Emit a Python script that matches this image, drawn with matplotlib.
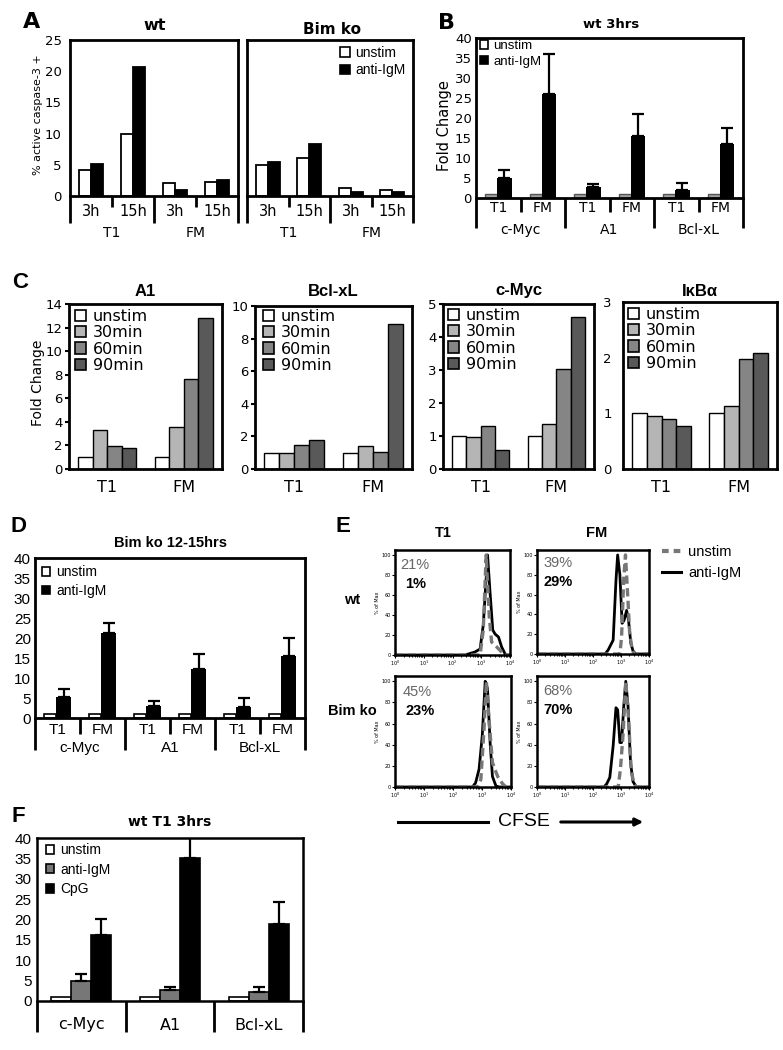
import numpy as np
import matplotlib
matplotlib.use('Agg')
import matplotlib.pyplot as plt
import matplotlib.transforms as mtransforms
from matplotlib.patches import Patch, FancyArrowPatch
from matplotlib.lines import Line2D

# ---------------- data ----------------
# Panel A: % active caspase-3+
a_times = ['3h', '15h', '3h', '15h']
a_cells = ['T1', 'FM']
a_wt_unstim = [4.1, 10.0, 2.1, 2.3]
a_wt_anti = [5.2, 20.6, 0.9, 2.5]
a_ko_unstim = [5.0, 6.1, 1.3, 0.9]
a_ko_anti = [5.5, 8.4, 0.7, 0.7]

# Panel B: wt 3hrs fold change
b_cells = ['T1', 'FM', 'T1', 'FM', 'T1', 'FM']
b_genes = ['c-Myc', 'A1', 'Bcl-xL']
b_unstim = [1.0, 1.0, 1.0, 1.0, 1.0, 1.0]
b_anti = [5.0, 25.9, 2.7, 15.4, 2.1, 13.4]
b_anti_err = [2.0, 10.2, 0.9, 5.7, 1.7, 4.0]

# Panel C: time course fold change
c_series = ['unstim', '30min', '60min', '90min']
c_cells = ['T1', 'FM']
c_a1_t1 = [1.0, 3.3, 1.95, 1.75]
c_a1_fm = [1.0, 3.6, 7.6, 12.8]
c_bcl_t1 = [1.0, 1.0, 1.45, 1.75]
c_bcl_fm = [1.0, 1.4, 1.05, 8.9]
c_myc_t1 = [1.0, 0.97, 1.3, 0.59]
c_myc_fm = [1.0, 1.35, 3.04, 4.6]
c_ikb_t1 = [1.0, 0.95, 0.9, 0.78]
c_ikb_fm = [1.0, 1.13, 1.98, 2.08]

# Panel D: Bim ko 12-15hrs
d_cells = ['T1', 'FM', 'T1', 'FM', 'T1', 'FM']
d_genes = ['c-Myc', 'A1', 'Bcl-xL']
d_unstim = [1.0, 1.0, 1.0, 1.0, 1.0, 1.0]
d_anti = [5.2, 21.3, 2.9, 12.2, 2.7, 15.6]
d_anti_err = [2.0, 2.5, 1.3, 3.8, 2.2, 4.4]

# Panel E: CFSE histograms (log10 CFSE, % of max)
e_wt_t1_anti_x = [0, 2.43, 2.78, 2.96, 3.07, 3.22, 3.3, 3.4, 3.48, 3.6, 3.71, 3.83, 3.9, 4.0]
e_wt_t1_anti_y = [0, 0, 3, 6, 30, 100, 65, 25, 21, 18, 8, 1, 0, 0]
e_wt_t1_un_x = [0, 2.96, 3.07, 3.17, 3.28, 3.36, 3.54, 3.71, 3.83, 4.0]
e_wt_t1_un_y = [0, 0, 25, 100, 38, 13, 8, 3, 0, 0]
e_wt_fm_anti_x = [0, 2.43, 2.54, 2.63, 2.72, 2.82, 2.88, 2.96, 3.04, 3.11, 3.2, 3.27, 3.35, 3.43, 3.53, 4.0]
e_wt_fm_anti_y = [0, 0, 4, 9, 14, 74, 100, 80, 31, 34, 44, 34, 11, 3, 0, 0]
e_wt_fm_un_x = [0, 2.96, 3.02, 3.1, 3.16, 3.23, 3.31, 3.4, 3.47, 4.0]
e_wt_fm_un_y = [0, 0, 17, 77, 100, 64, 21, 4, 0, 0]
e_ko_t1_anti_x = [0, 2.67, 2.78, 2.9, 3.01, 3.11, 3.19, 3.28, 3.36, 3.48, 3.6, 4.0]
e_ko_t1_anti_y = [0, 0, 4, 17, 49, 100, 93, 42, 10, 1, 0, 0]
e_ko_t1_un_x = [0, 2.84, 2.96, 3.07, 3.15, 3.25, 3.36, 3.54, 3.71, 3.83, 4.0]
e_ko_t1_un_y = [0, 0, 7, 55, 100, 61, 23, 10, 3, 0, 0]
e_ko_fm_anti_x = [0, 2.39, 2.49, 2.6, 2.72, 2.82, 2.88, 2.96, 3.02, 3.1, 3.17, 3.25, 3.34, 3.43, 3.55, 4.0]
e_ko_fm_anti_y = [0, 0, 3, 9, 39, 75, 73, 42, 42, 77, 100, 77, 23, 5, 0, 0]
e_ko_fm_un_x = [0, 2.9, 2.98, 3.08, 3.17, 3.27, 3.37, 3.47, 3.55, 4.0]
e_ko_fm_un_y = [0, 0, 17, 52, 100, 64, 14, 3, 0, 0]
e_pct_unstim = ['21%', '39%', '45%', '68%']
e_pct_anti = ['1%', '29%', '23%', '70%']

# Panel F: wt T1 3hrs
f_genes = ['c-Myc', 'A1', 'Bcl-xL']
f_unstim = [1.0, 1.0, 1.0]
f_anti = [4.8, 2.6, 2.1]
f_anti_err = [1.9, 0.8, 1.4]
f_cpg = [16.1, 35.1, 19.0]
f_cpg_err = [4.1, 5.2, 5.4]

# ---------------- layout helpers ----------------
W, H = 783, 1050
plt.rcParams['font.family'] = ['DejaVu Sans']
fig = plt.figure(figsize=(W / 100, H / 100), dpi=100)
ref = mtransforms.Affine2D().scale(1.0 / W, -1.0 / H).translate(0, 1) + fig.transFigure
DV = 'DejaVu Sans'
LS = 'Liberation Sans'


def box(l, t, r, b):
    return fig.add_axes([l / W, 1 - b / H, (r - l) / W, (b - t) / H])


def ftext(x, y, s, **kw):
    kw.setdefault('ha', 'center')
    kw.setdefault('va', 'center')
    return fig.text(x, y, s, transform=ref, **kw)


def spines(ax, lw):
    for s in ax.spines.values():
        s.set_linewidth(lw)


def sep(ax, xs, y0, y1, lw=2.0):
    tr = mtransforms.blended_transform_factory(ax.transData, ref)
    for x in xs:
        ax.plot([x, x], [y0, y1], color='k', lw=lw, transform=tr,
                clip_on=False, solid_capstyle='butt')


def xlab(ax, xs, labels, y, **kw):
    tr = mtransforms.blended_transform_factory(ax.transData, ref)
    for x, s in zip(xs, labels):
        ax.text(x, y, s, transform=tr, ha='center', va='center', **kw)


def sq_legend(ax, labels, colors, anchor, fs, family, spacing, hl=0.7):
    handles = [Patch(facecolor=c, edgecolor='k', linewidth=1.2) for c in colors]
    ax.legend(handles, labels, loc='upper left', bbox_to_anchor=anchor,
              bbox_transform=ref, frameon=False, borderpad=0, borderaxespad=0,
              handlelength=hl, handleheight=hl, handletextpad=0.4,
              labelspacing=spacing, prop={'family': family, 'size': fs})


# ---------------- Panel A ----------------
axA1 = box(70, 40, 238, 196)
axA2 = box(247, 40, 413, 196)
xa = np.arange(len(a_times))
for ax, un, an in [(axA1, a_wt_unstim, a_wt_anti), (axA2, a_ko_unstim, a_ko_anti)]:
    ax.bar(xa - 0.15, un, 0.29, color='white', edgecolor='k', lw=1.3)
    ax.bar(xa + 0.15, an, 0.29, color='k', edgecolor='k', lw=1.3)
    ax.set_xlim(-0.5, len(a_times) - 0.5)
    ax.set_ylim(0, 25)
    ax.set_xticks([])
    ax.set_yticks(np.arange(0, 26, 5))
    ax.tick_params(axis='y', length=0, pad=6, labelsize=9.5)
    spines(ax, 2.0)
    sep(ax, [-0.5, 1.5, 3.5], 196, 223)
    sep(ax, [0.5, 2.5], 196, 207)
    xlab(ax, xa, a_times, 212, fontsize=10.5)
    xlab(ax, [0.5, 2.5], a_cells, 233, fontsize=10)
axA2.set_yticklabels([])
ftext(32, 22, 'A', fontsize=16, fontweight='bold')
ftext(155, 26, 'wt', fontsize=11.5, fontweight='bold')
ftext(332, 29, 'Bim ko', fontsize=11, fontweight='bold')
ftext(38, 115, '% active caspase-3 +', rotation=90, fontsize=8)
sq_legend(axA2, ['unstim', 'anti-IgM'], ['white', 'black'], (340, 46), 10, LS, 0.25)

# ---------------- Panel B ----------------
axB = box(476, 38, 743, 198)
xb = np.arange(len(b_anti))
axB.bar(xb - 0.16, b_unstim, 0.27, color='#a0a0a0', edgecolor='#555555', lw=1)
axB.bar(xb + 0.14, b_anti, 0.33, color='k')
axB.errorbar(xb + 0.14, b_anti, yerr=[np.zeros(len(b_anti)), b_anti_err], fmt='none',
             ecolor='k', elinewidth=1.6, capsize=4, capthick=1.6)
axB.set_xlim(-0.5, len(b_anti) - 0.5)
axB.set_ylim(0, 40)
axB.set_xticks([])
axB.set_yticks(np.arange(0, 41, 5))
axB.tick_params(axis='y', length=0, pad=3, labelsize=9.5)
spines(axB, 2.0)
sep(axB, [-0.5, 1.5, 3.5, 5.5], 198, 228)
sep(axB, [0.5, 2.5, 4.5], 198, 212)
xlab(axB, xb, b_cells, 208, fontsize=10)
xlab(axB, [0.5, 2.5, 4.5], b_genes, 230, fontsize=10)
ftext(446, 23, 'B', fontsize=16, fontweight='bold')
ftext(611, 25, 'wt 3hrs', fontsize=9.5, fontweight='bold')
ftext(444, 126, 'Fold Change', rotation=90, fontsize=10.5)
sq_legend(axB, ['unstim', 'anti-IgM'], ['white', 'black'], (480, 40), 9.5, LS, 0.3, hl=0.6)

# ---------------- Panel C ----------------
c_colors = ['white', '#b5b5b5', '#858585', '#595959']
c_width = 0.19
c_off = (np.arange(len(c_series)) - 1.5) * c_width
c_specs = [
    ((69, 304, 222, 469), 'A1', 14, 2, c_a1_t1, c_a1_fm, (75, 309)),
    ((255, 306, 412, 469), 'Bcl-xL', 10, 2, c_bcl_t1, c_bcl_fm, (263, 309)),
    ((443, 304, 594, 469), 'c-Myc', 5, 1, c_myc_t1, c_myc_fm, (448, 308)),
    ((623, 302, 777, 469), 'IκBα', 3, 1, c_ikb_t1, c_ikb_fm, (628, 307)),
]
xc = np.arange(len(c_cells))
for (bx, title, ymax, step, t1, fm, anc) in c_specs:
    ax = box(*bx)
    for i in range(len(c_series)):
        ax.bar(xc + c_off[i], [t1[i], fm[i]], c_width, color=c_colors[i],
               edgecolor='k', lw=1)
    ax.set_xlim(-0.5, 1.5)
    ax.set_ylim(0, ymax)
    ax.set_xticks([])
    ax.set_yticks(np.arange(0, ymax + 0.01, step))
    if title == 'IκBα':
        ax.tick_params(axis='y', length=0, pad=8, labelsize=9.5)
    else:
        ax.tick_params(axis='y', direction='out', length=3, width=1.5, pad=1.5, labelsize=9.5)
    spines(ax, 2.0)
    xlab(ax, xc, c_cells, 488, fontsize=11.5)
    ftext((bx[0] + bx[2]) / 2, 291, title, fontsize=12, fontweight='bold', family=LS)
    sq_legend(ax, c_series, c_colors, anc, 11.5, DV, 0.08)
ftext(20, 282, 'C', fontsize=16, fontweight='bold', family=LS)
ftext(38, 383, 'Fold Change', rotation=90, fontsize=10)

# ---------------- Panel D ----------------
axD = box(35, 558, 305, 718)
xd = np.arange(len(d_anti))
axD.bar(xd - 0.16, d_unstim, 0.27, color='white', edgecolor='k', lw=1.2)
axD.bar(xd + 0.14, d_anti, 0.33, color='k')
axD.errorbar(xd + 0.14, d_anti, yerr=[np.zeros(len(d_anti)), d_anti_err], fmt='none',
             ecolor='k', elinewidth=1.6, capsize=4, capthick=1.6)
axD.set_xlim(-0.5, len(d_anti) - 0.5)
axD.set_ylim(0, 40)
axD.set_xticks([])
axD.set_yticks(np.arange(0, 41, 5))
axD.tick_params(axis='y', length=0, pad=3, labelsize=11, labelfontfamily=LS)
spines(axD, 2.0)
sep(axD, [-0.5, 1.5, 3.5, 5.5], 718, 750)
sep(axD, [0.5, 2.5, 4.5], 718, 734)
xlab(axD, xd, d_cells, 730, fontsize=11, family=LS)
xlab(axD, [0.5, 2.5, 4.5], d_genes, 748, fontsize=11, family=LS)
ftext(19, 526, 'D', fontsize=16, fontweight='bold', family=LS)
ftext(170, 543, 'Bim ko 12-15hrs', fontsize=10.5, fontweight='bold', family=LS)
sq_legend(axD, ['unstim', 'anti-IgM'], ['white', 'black'], (42, 565), 10, LS, 0.35, hl=0.6)

# ---------------- Panel E ----------------
e_boxes = [(395, 550, 510, 655), (537, 550, 649, 654), (395, 676, 511, 787), (537, 676, 649, 787)]
e_anti = [(e_wt_t1_anti_x, e_wt_t1_anti_y), (e_wt_fm_anti_x, e_wt_fm_anti_y),
          (e_ko_t1_anti_x, e_ko_t1_anti_y), (e_ko_fm_anti_x, e_ko_fm_anti_y)]
e_un = [(e_wt_t1_un_x, e_wt_t1_un_y), (e_wt_fm_un_x, e_wt_fm_un_y),
        (e_ko_t1_un_x, e_ko_t1_un_y), (e_ko_fm_un_x, e_ko_fm_un_y)]
e_txt_pos = [((400, 565), (405, 584)), ((543, 563), (543, 582)),
             ((403, 692), (405, 711)), ((543, 691), (543, 710))]
for k, bx in enumerate(e_boxes):
    ax = box(*bx)
    ax.plot(np.power(10.0, e_anti[k][0]), e_anti[k][1], color='k', lw=2.0)
    ax.plot(np.power(10.0, e_un[k][0]), e_un[k][1], color='#777777', lw=2.4,
            ls=(0, (2.5, 1.3)))
    ax.set_xscale('log')
    ax.set_xlim(1, 1e4)
    ax.set_ylim(0, 105)
    ax.set_yticks(np.arange(0, 101, 20))
    ax.tick_params(which='both', direction='out', labelsize=3.5, length=2, width=0.8, pad=1)
    ax.tick_params(which='minor', length=1.2)
    ax.set_ylabel('% of Max', fontsize=3.5, labelpad=1)
    spines(ax, 1.8)
    (p1, p2) = e_txt_pos[k]
    ftext(p1[0], p1[1], e_pct_unstim[k], ha='left', fontsize=10.5, color='#666666', family=LS)
    ftext(p2[0], p2[1], e_pct_anti[k], ha='left', fontsize=10.5, fontweight='bold', family=LS)
ftext(443, 533, 'T1', fontsize=10.5, fontweight='bold', family=LS)
ftext(597, 533, 'FM', fontsize=10.5, fontweight='bold', family=LS)
ftext(352, 600, 'wt', fontsize=10.5, fontweight='bold', family=LS)
ftext(352, 711, 'Bim ko', fontsize=10.5, fontweight='bold', family=LS)
ftext(343, 527, 'E', fontsize=16, fontweight='bold', family=LS)
e_handles = [Line2D([], [], color='#777777', lw=3.0, ls=(0, (1.6, 1.2))),
             Line2D([], [], color='k', lw=2.2)]
fig.legend(e_handles, ['unstim', 'anti-IgM'], loc='upper left', bbox_to_anchor=(662, 545),
           bbox_transform=ref, frameon=False, handlelength=1.3, handletextpad=0.5,
           borderpad=0, borderaxespad=0, labelspacing=0.5, prop={'family': LS, 'size': 10.5})
fig.add_artist(Line2D([398, 488], [822, 822], color='k', lw=2.2, transform=ref))
fig.add_artist(FancyArrowPatch((558, 822), (646, 822), transform=ref, arrowstyle='-|>',
                               mutation_scale=11, color='k', lw=2.2))
ftext(524, 821, 'CFSE', fontsize=14, family=LS)

# ---------------- Panel F ----------------
axF = box(37, 838, 303, 1001)
xf = np.arange(len(f_genes))
fw = 0.225
axF.bar(xf - fw, f_unstim, fw, color='white', edgecolor='k', lw=1.2)
axF.bar(xf, f_anti, fw, color='#777777', edgecolor='k', lw=1.2)
axF.bar(xf + fw, f_cpg, fw, color='k', edgecolor='k', lw=1.2)
axF.errorbar(xf, f_anti, yerr=[np.zeros(len(f_anti)), f_anti_err], fmt='none',
             ecolor='k', elinewidth=1.6, capsize=4, capthick=1.6)
axF.errorbar(xf + fw, f_cpg, yerr=[np.zeros(len(f_cpg)), f_cpg_err], fmt='none',
             ecolor='k', elinewidth=1.6, capsize=4, capthick=1.6)
axF.set_xlim(-0.5, len(f_genes) - 0.5)
axF.set_ylim(0, 40)
axF.set_xticks([])
axF.set_yticks(np.arange(0, 41, 5))
axF.tick_params(axis='y', length=0, pad=4, labelsize=11, labelfontfamily=LS)
spines(axF, 1.8)
sep(axF, [-0.5, 0.5, 1.5, 2.5], 1001, 1032)
xlab(axF, xf, f_genes, 1025, fontsize=11.5)
ftext(18, 817, 'F', fontsize=16, fontweight='bold', family=LS)
ftext(170, 822, 'wt T1 3hrs', fontsize=10, fontweight='bold')
sq_legend(axF, ['unstim', 'anti-IgM', 'CpG'], ['white', '#777777', 'black'], (46, 843), 10, LS, 0.4, hl=0.6)

fig.savefig('out.png', dpi=100)
